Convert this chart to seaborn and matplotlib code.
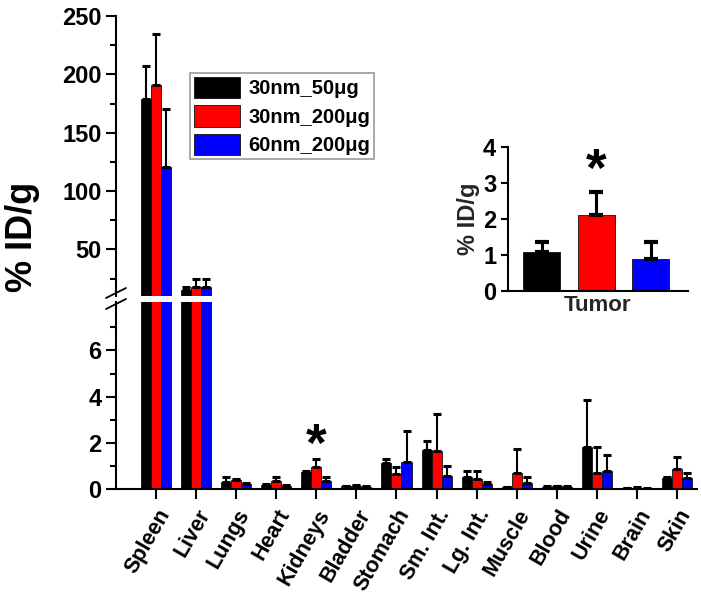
import numpy as np
import pandas as pd
import seaborn as sns
import matplotlib
matplotlib.use('Agg')
from matplotlib import pyplot as plt
from matplotlib.lines import Line2D

organs = ['Spleen', 'Liver', 'Lungs', 'Heart', 'Kidneys', 'Bladder', 'Stomach',
          'Sm. Int.', 'Lg. Int.', 'Muscle', 'Blood', 'Urine', 'Brain', 'Skin']
groups = ['30nm_50μg', '30nm_200μg', '60nm_200μg']
colors = ['#000000', '#ff0000', '#0000ff']

g1_mean = [179, 15.5, 0.32, 0.16, 0.72, 0.13, 1.14, 1.70, 0.50, 0.07, 0.08, 1.80, 0.03, 0.48]
g1_err = [28, 2.5, 0.18, 0.05, 0.06, 0.02, 0.15, 0.36, 0.27, 0.02, 0.03, 2.04, 0.01, 0.05]
g2_mean = [190.5, 18, 0.39, 0.35, 0.97, 0.14, 0.65, 1.65, 0.42, 0.71, 0.12, 0.71, 0.05, 0.85]
g2_err = [44, 7, 0.05, 0.18, 0.32, 0.02, 0.29, 1.61, 0.38, 1.02, 0.03, 1.13, 0.02, 0.53]
g3_mean = [121, 18, 0.22, 0.14, 0.35, 0.10, 1.17, 0.58, 0.20, 0.25, 0.10, 0.80, 0.02, 0.46]
g3_err = [49, 7, 0.05, 0.03, 0.15, 0.01, 1.35, 0.42, 0.12, 0.25, 0.02, 0.67, 0.01, 0.22]

tumor_mean = [1.08, 2.10, 0.88]
tumor_err = [0.27, 0.65, 0.47]

df = pd.DataFrame({
    'organ': organs * 3,
    'group': np.repeat(groups, len(organs)),
    'value': g1_mean + g2_mean + g3_mean,
    'err': g1_err + g2_err + g3_err,
})
tum = pd.DataFrame({'group': groups, 'value': tumor_mean, 'err': tumor_err})

sns.set_style('ticks')
plt.rcParams['font.family'] = ['Liberation Sans', 'DejaVu Sans']
plt.rcParams['font.weight'] = 'bold'
plt.rcParams['axes.linewidth'] = 1.5
plt.rcParams['xtick.major.width'] = 1.5
plt.rcParams['ytick.major.width'] = 1.5
plt.rcParams['ytick.minor.width'] = 1.5
plt.rcParams['xtick.major.size'] = 7
plt.rcParams['ytick.major.size'] = 7
plt.rcParams['ytick.minor.size'] = 4
plt.rcParams['xtick.color'] = 'black'
plt.rcParams['ytick.color'] = 'black'
plt.rcParams['axes.edgecolor'] = 'black'
plt.rcParams['text.color'] = 'black'

W, H = 701, 604
fig = plt.figure(figsize=(W / 100, H / 100), dpi=100)
ax_top = fig.add_axes([116 / W, 1 - 296 / H, 581 / W, 280 / H])
ax_bot = fig.add_axes([116 / W, 1 - 489 / H, 581 / W, 187 / H])


def draw(ax):
    sns.barplot(data=df, x='organ', y='value', hue='group', hue_order=groups,
                palette=colors, saturation=1, width=0.75, order=organs, errorbar=None,
                edgecolor='#111111', linewidth=0.6, legend=False, ax=ax)
    bars = list(ax.containers[:3])
    for cont, grp in zip(bars, groups):
        sub = df[df.group == grp].set_index('organ').loc[organs]
        xs = [p.get_x() + p.get_width() / 2 for p in cont.patches]
        ax.errorbar(xs, sub['value'], yerr=[np.zeros(len(xs)), sub['err']],
                    fmt='none', ecolor='black', elinewidth=1.5, capsize=3,
                    capthick=2.2)
    ax.set_xlim(-1.0, 13.5)
    ax.set_xlabel('')
    ax.set_ylabel('')
    return bars


bars = draw(ax_top)
draw(ax_bot)

ax_top.set_ylim(10, 250)
ax_top.set_yticks([50, 100, 150, 200, 250])
ax_top.set_yticks([25, 75, 125, 175, 225], minor=True)
ax_top.set_xticks([])
for s in ['top', 'right', 'bottom']:
    ax_top.spines[s].set_visible(False)

ax_bot.set_ylim(0, 8.1)
ax_bot.set_yticks([0, 2, 4, 6])
ax_bot.set_yticks([1, 3, 5, 7], minor=True)
for s in ['top', 'right']:
    ax_bot.spines[s].set_visible(False)

for ax in [ax_top, ax_bot]:
    ax.tick_params(axis='y', which='both', direction='out', labelsize=17)
ax_bot.tick_params(axis='x', direction='out', labelsize=15.5, pad=5)
plt.setp(ax_bot.get_xticklabels(), rotation=60, ha='right', rotation_mode='anchor',
         fontweight='bold')
plt.setp(ax_top.get_yticklabels() + ax_bot.get_yticklabels(), fontweight='bold')

# asterisk over kidneys, 30nm_200ug
k = organs.index('Kidneys')
ax_bot.text(k, 1.83, '*', ha='center', va='center', fontsize=38, fontweight='bold',
            color='black')

# axis break marks
for yb in [293, 304]:
    fig.add_artist(Line2D([106 / W, 126 / W], [1 - (yb + 5) / H, 1 - (yb - 5) / H],
                          color='black', lw=1.3))

fig.text(22 / W, 1 - 237 / H, '% ID/g', rotation=90, ha='center', va='center',
         fontsize=26, fontweight='bold')

leg = ax_top.legend(bars, groups, loc='upper left', bbox_to_anchor=(190 / W, 1 - 73 / H),
                    bbox_transform=fig.transFigure, fontsize=14.5, frameon=True,
                    fancybox=False, framealpha=1, edgecolor='#999999',
                    handlelength=2.3, handleheight=1.25, labelspacing=0.35,
                    handletextpad=0.4, borderpad=0.2, borderaxespad=0)
leg.get_frame().set_linewidth(1.2)
for t in leg.get_texts():
    t.set_fontweight('bold')

# inset with tumor uptake
ax_in = fig.add_axes([508 / W, 1 - 291 / H, 180 / W, 144 / H])
sns.barplot(data=tum, x='group', y='value', hue='group', order=groups, hue_order=groups,
            palette=colors, saturation=1, width=0.68, errorbar=None, edgecolor='#111111',
            linewidth=0.6, legend=False, ax=ax_in)
ax_in.errorbar(range(3), tumor_mean, yerr=[np.zeros(3), tumor_err], fmt='none',
               ecolor='black', elinewidth=2.2, capsize=5, capthick=3)
ax_in.set_xlim(-0.62, 2.68)
ax_in.set_ylim(0, 4)
ax_in.set_yticks([0, 1, 2, 3, 4])
ax_in.set_xticks([])
ax_in.set_xlabel('Tumor', fontsize=16, fontweight='bold', labelpad=3)
ax_in.set_ylabel('% ID/g', fontsize=17, fontweight='bold', labelpad=2)
ax_in.tick_params(axis='y', direction='out', labelsize=17, length=5)
plt.setp(ax_in.get_yticklabels(), fontweight='bold')
for s in ['top', 'right']:
    ax_in.spines[s].set_visible(False)
ax_in.text(1, 3.3, '*', ha='center', va='center', fontsize=38, fontweight='bold',
           color='black')

fig.savefig('out.png', dpi=100)
